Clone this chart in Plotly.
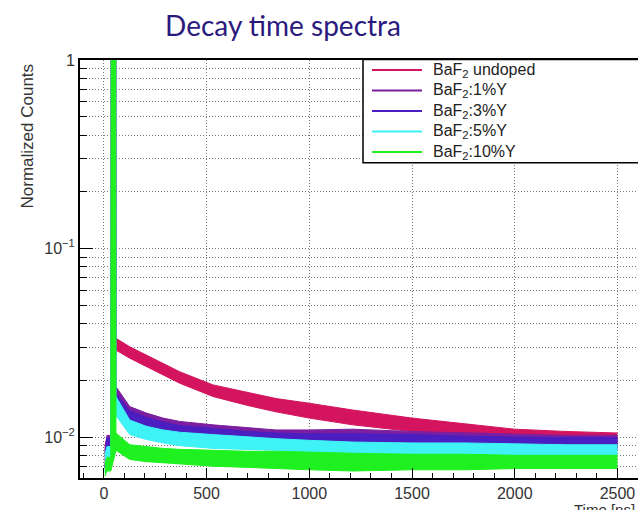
import plotly.graph_objects as go

# ---------------- data ----------------
names = ["BaF<sub>2</sub> undoped", "BaF<sub>2</sub>:1%Y", "BaF<sub>2</sub>:3%Y",
         "BaF<sub>2</sub>:5%Y", "BaF<sub>2</sub>:10%Y"]
colors = ["#d4145e", "#7b1fa0", "#4a1ec0", "#3ef2f5", "#1ff01f"]

# region before the prompt peak
x_pre = [5, 15, 34]
# prompt peak (normalised to 1)
x_peak = [36, 58]
y_peak = [1.0, 1.0]
# decay tail
x_tail = [59, 126, 207, 288, 369, 531, 700, 838, 1000, 1212, 1500, 1757, 2000, 2250, 2500]

pre_hi = [
    [0.0090, 0.0098, 0.0098],
    [0.0085, 0.0102, 0.0102],
    [0.0082, 0.0099, 0.0099],
    [0.0080, 0.0089, 0.0089],
    [0.0072, 0.0078, 0.0078],
]
pre_lo = [
    [0.0075, 0.0085, 0.0085],
    [0.0070, 0.0087, 0.0087],
    [0.0068, 0.0085, 0.0085],
    [0.0065, 0.0076, 0.0076],
    [0.0062, 0.0066, 0.0066],
]
tail_hi = [
    [0.0334, 0.0301, 0.0272, 0.0245, 0.0222, 0.0189, 0.0172, 0.0160, 0.0151, 0.0139, 0.0126, 0.0118, 0.0110, 0.0107, 0.0105],
    [0.0185, 0.0145, 0.0134, 0.0126, 0.0121, 0.0116, 0.0112, 0.0109, 0.0109, 0.0110, 0.0107, 0.0105, 0.0103, 0.0102, 0.0102],
    [0.0170, 0.0138, 0.0127, 0.0120, 0.0115, 0.0111, 0.0107, 0.0105, 0.0104, 0.0104, 0.0103, 0.0101, 0.0100, 0.0099, 0.0099],
    [0.0164, 0.0123, 0.0114, 0.0109, 0.0106, 0.0103, 0.0100, 0.0098, 0.0096, 0.0094, 0.0093, 0.0093, 0.0092, 0.0091, 0.0091],
    [0.0105, 0.0091, 0.0089, 0.0087, 0.0086, 0.0085, 0.0084, 0.0084, 0.0083, 0.0082, 0.0081, 0.0081, 0.0080, 0.0080, 0.0080],
]
tail_lo = [
    [0.0289, 0.0262, 0.0236, 0.0213, 0.0193, 0.0164, 0.0147, 0.0136, 0.0126, 0.0116, 0.0107, 0.0102, 0.0094, 0.0093, 0.0092],
    [0.0150, 0.0128, 0.0119, 0.0113, 0.0108, 0.0103, 0.0099, 0.0096, 0.0095, 0.0095, 0.0094, 0.0092, 0.0089, 0.0088, 0.0087],
    [0.0140, 0.0121, 0.0113, 0.0107, 0.0103, 0.0099, 0.0095, 0.0093, 0.0092, 0.0092, 0.0091, 0.0089, 0.0087, 0.0086, 0.0086],
    [0.0130, 0.0103, 0.0097, 0.0093, 0.0090, 0.0087, 0.0086, 0.0085, 0.0083, 0.0081, 0.0080, 0.0080, 0.0079, 0.0079, 0.0079],
    [0.0085, 0.0076, 0.0074, 0.0073, 0.0072, 0.0070, 0.0069, 0.0068, 0.0067, 0.0066, 0.0067, 0.0067, 0.0068, 0.0068, 0.0068],
]

x_ticks = [0, 500, 1000, 1500, 2000, 2500]
x_minor = list(range(-100, 2601, 100))
y_ticks = [1, 0.1, 0.01]
y_ticktext = ["1", "10<sup>\u22121</sup>", "10<sup>\u22122</sup>"]
y_minor = [k * 10 ** d for d in (-3, -2, -1) for k in range(2, 10)]

# ---------------- figure ----------------
W, H = 638, 510
L, R, T, B = 80, 0, 60, 32
fig = go.Figure()

for i in range(len(names)):
    xl = x_pre + x_tail
    yl = pre_lo[i] + tail_lo[i]
    xu = x_pre + x_peak + x_tail
    yu = pre_hi[i] + y_peak + tail_hi[i]
    fig.add_trace(go.Scatter(x=xl, y=yl, mode="lines", line=dict(color=colors[i], width=1),
                             showlegend=False, hoverinfo="skip"))
    fig.add_trace(go.Scatter(x=xu, y=yu, mode="lines", fill="tonexty", fillcolor=colors[i],
                             line=dict(color=colors[i], width=1), name=names[i],
                             showlegend=False))

pw = W - L - R
ph = H - T - B


def px_x(p):
    return (p - L) / pw


def px_y(p):
    return (H - B - p) / ph


shapes = []
annotations = []
# legend box
shapes.append(dict(type="rect", xref="paper", yref="paper",
                   x0=px_x(363), x1=px_x(660), y0=px_y(162.7), y1=px_y(59.5),
                   fillcolor="white", line=dict(color="black", width=1.5), layer="above"))
for i, n in enumerate(names):
    yy = px_y(70 + i * 20.5)
    shapes.append(dict(type="line", xref="paper", yref="paper",
                       x0=px_x(372), x1=px_x(422), y0=yy, y1=yy,
                       line=dict(color=colors[i], width=2), layer="above"))
    annotations.append(dict(xref="paper", yref="paper", x=px_x(431), y=yy,
                            xanchor="left", yanchor="middle", showarrow=False, text=n,
                            font=dict(family="Liberation Sans", size=16, color="#222")))

# axis titles
annotations.append(dict(xref="paper", yref="paper", x=px_x(27), y=px_y(62),
                        xanchor="center", yanchor="top", textangle=-90, showarrow=False,
                        text="Normalized Counts",
                        font=dict(family="Liberation Sans", size=17, color="#333")))
annotations.append(dict(xref="paper", yref="paper", x=px_x(572), y=px_y(499),
                        xanchor="left", yanchor="top", showarrow=False,
                        text="Time [ns]",
                        font=dict(family="Liberation Sans", size=15, color="#333")))

grid = dict(showgrid=True, gridcolor="#777", griddash="1px,2px", gridwidth=1)

fig.update_layout(
    width=W, height=H,
    margin=dict(l=L, r=R, t=T, b=B, pad=0),
    paper_bgcolor="white", plot_bgcolor="white",
    title=dict(text="Decay time spectra", x=283 / W, xanchor="center",
               y=1 - 26 / H, yanchor="middle",
               font=dict(family="Lato", size=28, color="#2b1a7e")),
    shapes=shapes, annotations=annotations,
    xaxis=dict(range=[-116, 2600], tickvals=x_ticks, ticks="inside", ticklen=10,
               tickwidth=1, tickcolor="black",
               showline=True, linecolor="black", linewidth=2, mirror=True,
               zeroline=False, **grid,
               tickfont=dict(family="Liberation Sans", size=16, color="#333"),
               minor=dict(tickvals=x_minor, ticks="inside", ticklen=5, tickcolor="black",
                          showgrid=False)),
    yaxis=dict(type="log", range=[-2.2175, 0], tickvals=y_ticks, ticktext=y_ticktext,
               ticks="inside", ticklen=13, tickwidth=1, tickcolor="black",
               showline=True, linecolor="black", linewidth=2, mirror=False,
               zeroline=False, **grid,
               tickfont=dict(family="Liberation Sans", size=16, color="#333"),
               minor=dict(tickvals=y_minor, ticks="inside", ticklen=7, tickcolor="black",
                          **grid)),
)

fig.write_html("out.html")
